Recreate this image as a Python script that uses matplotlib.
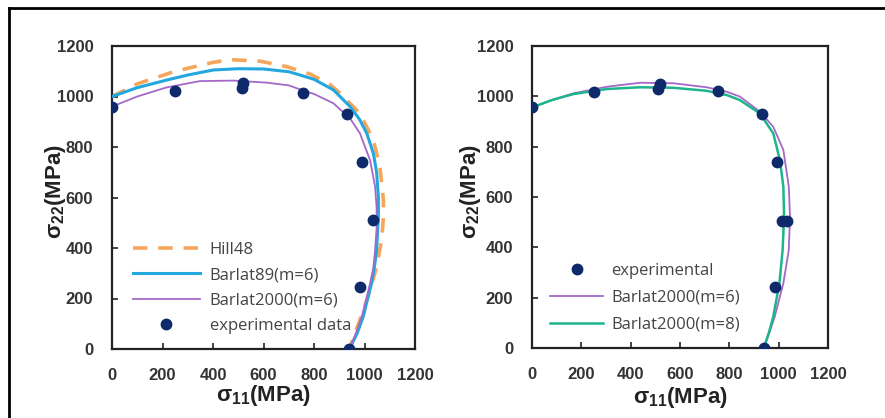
import matplotlib
matplotlib.use("Agg")
import matplotlib.pyplot as plt
from matplotlib.lines import Line2D

plt.rcParams['font.family'] = ['Liberation Sans', 'DejaVu Sans']
plt.rcParams['mathtext.fontset'] = 'custom'
plt.rcParams['mathtext.rm'] = 'Liberation Sans:bold'
plt.rcParams['mathtext.bf'] = 'Liberation Sans:bold'
plt.rcParams['mathtext.it'] = 'Liberation Sans:bold'

# ---- data (MPa) ----
exp_x_left = [0, 250, 513, 517, 755, 929, 992, 1032, 982, 937]
exp_y_left = [957, 1022, 1033, 1052, 1015, 931, 742, 511, 244, 0]

hill48_x = [0, 100, 250, 400, 467, 586, 692, 784, 860, 903, 982, 1035, 1061, 1075, 1075, 1068, 1048, 1022, 995, 965, 940]
hill48_y = [1000, 1050, 1100, 1135, 1146, 1140, 1118, 1089, 1050, 1013, 933, 828, 722, 590, 524, 432, 326, 234, 150, 70, 0]

barlat89_x = [0, 100, 216, 300, 401, 500, 600, 700, 745, 800, 877, 943, 980, 1009, 1035, 1048, 1055, 1055, 1048, 1040, 1028, 1010, 995, 970, 940]
barlat89_y = [1000, 1035, 1065, 1085, 1105, 1110, 1109, 1098, 1085, 1068, 1026, 960, 910, 854, 775, 700, 600, 524, 392, 330, 260, 190, 128, 60, 0]

b2000m6_left_x = [0, 100, 216, 348, 480, 612, 700, 745, 800, 877, 943, 982, 1022, 1042, 1048, 1048, 1042, 1035, 1022, 1005, 989, 965, 940]
b2000m6_left_y = [960, 1000, 1036, 1061, 1063, 1055, 1044, 1028, 1010, 973, 913, 854, 748, 643, 560, 480, 392, 320, 260, 190, 128, 60, 0]

exp_x_right = [0, 253, 512, 519, 755, 931, 992, 1012, 1032, 985, 940]
exp_y_right = [956, 1018, 1028, 1049, 1023, 930, 740, 505, 505, 241, 0]

b2000m8_x = [0, 80, 168, 303, 438, 573, 708, 790, 843, 924, 978, 1005, 1019, 1022, 1016, 1003, 978, 960, 940]
b2000m8_y = [956, 985, 1009, 1029, 1036, 1034, 1022, 1005, 985, 932, 853, 747, 641, 522, 389, 257, 124, 60, 0]

b2000m6_right_x = [0, 80, 168, 303, 438, 573, 708, 790, 843, 924, 978, 1019, 1041, 1046, 1041, 1019, 984, 962, 940]
b2000m6_right_y = [956, 985, 1012, 1038, 1054, 1052, 1036, 1018, 999, 939, 879, 787, 641, 522, 389, 257, 124, 60, 0]

ticks = [0, 200, 400, 600, 800, 1000, 1200]

C_ORANGE = '#F5A65B'
C_CYAN = '#22A7DE'
C_PURPLE = '#A469C8'
C_GREEN = '#1DB58C'
C_DOT = '#0E2A6B'

fig = plt.figure(figsize=(8.85, 4.18), dpi=100)
fig.patch.set_facecolor('white')

ax1 = fig.add_axes([112/885, (418-349)/418, 303/885, 303/418])
ax2 = fig.add_axes([532/885, (418-348)/418, 296/885, 302/418])

ax1.plot(hill48_x, hill48_y, color=C_ORANGE, lw=2.6, dashes=(4, 3), label='Hill48', zorder=2)
ax1.plot(barlat89_x, barlat89_y, color=C_CYAN, lw=2.2, label='Barlat89(m=6)', zorder=3)
ax1.plot(b2000m6_left_x, b2000m6_left_y, color=C_PURPLE, lw=1.3, label='Barlat2000(m=6)', zorder=4)
ax1.plot(exp_x_left, exp_y_left, linestyle='none', marker='o', ms=7.5, color=C_DOT,
         label='experimental data', zorder=5)

ax2.plot(exp_x_right, exp_y_right, linestyle='none', marker='o', ms=7.5, color=C_DOT,
         label='experimental', zorder=5)
ax2.plot(b2000m6_right_x, b2000m6_right_y, color=C_PURPLE, lw=1.3, label='Barlat2000(m=6)', zorder=3)
ax2.plot(b2000m8_x, b2000m8_y, color=C_GREEN, lw=1.8, label='Barlat2000(m=8)', zorder=4)

for ax in (ax1, ax2):
    ax.set_xlim(0, 1200)
    ax.set_ylim(0, 1200)
    ax.set_xticks(ticks)
    ax.set_yticks(ticks)
    ax.tick_params(direction='in', length=4, width=1.2, labelsize=12, colors='#222222',
                   pad=13.5)
    for lab in ax.get_xticklabels() + ax.get_yticklabels():
        lab.set_fontweight('bold')
        lab.set_color('#333333')
    for s in ax.spines.values():
        s.set_linewidth(1.6)
        s.set_color('#222222')
    ax.set_xlabel(r'σ$_{11}$(MPa)', fontsize=16, fontweight='bold', color='#222222')
    ax.set_ylabel(r'σ$_{22}$(MPa)', fontsize=16, fontweight='bold', color='#222222')

ax1.xaxis.set_label_coords(0.5, -0.112)
ax1.yaxis.set_label_coords(-0.145, 0.518)
ax2.xaxis.set_label_coords(0.5, -0.123)
ax2.yaxis.set_label_coords(-0.166, 0.518)

leg_font = {'family': ['Open Sans', 'DejaVu Sans'], 'size': 12}
ax1.legend(loc='upper left', bbox_to_anchor=(0.069, 0.353), frameon=False, prop=leg_font,
           handlelength=4.0, handletextpad=0.6, labelspacing=0.55, borderpad=0,
           borderaxespad=0, labelcolor='#444444')
ax2.legend(loc='upper left', bbox_to_anchor=(0.061, 0.283), frameon=False, prop=leg_font,
           handlelength=3.2, handletextpad=0.45, labelspacing=0.66, borderpad=0,
           borderaxespad=0, labelcolor='#444444')

# outer frame (top and left edges)
fig.add_artist(Line2D([8.5/885, 1.0], [1 - 8/418, 1 - 8/418], transform=fig.transFigure,
                      color='black', lw=2))
fig.add_artist(Line2D([8.5/885, 8.5/885], [0, 1 - 8/418], transform=fig.transFigure,
                      color='black', lw=2))

fig.savefig('out.png', dpi=100, facecolor='white')
